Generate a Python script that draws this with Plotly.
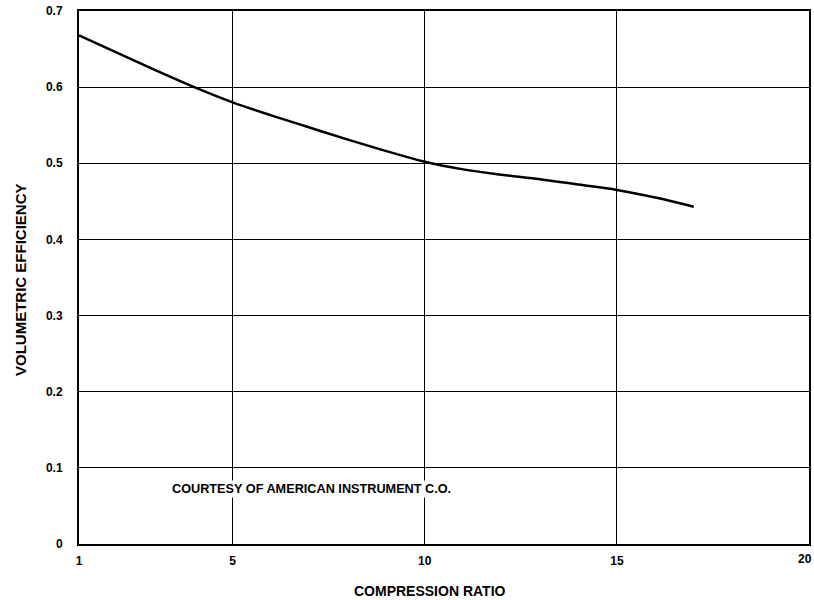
import plotly.graph_objects as go

# Volumetric efficiency versus compression ratio
compression_ratio = [1, 2, 3, 4, 5, 6, 7, 8, 9, 10, 11, 12, 13, 14, 15, 16, 17]
volumetric_eff = [0.668, 0.645, 0.622, 0.600, 0.580, 0.563, 0.547, 0.531, 0.516,
                  0.502, 0.492, 0.485, 0.479, 0.472, 0.465, 0.455, 0.443]

x_ticks = [1, 5, 10, 15, 20]
y_ticks = [0, 0.1, 0.2, 0.3, 0.4, 0.5, 0.6, 0.7]
y_tick_text = ["0", "0.1", "0.2", "0.3", "0.4", "0.5", "0.6", "0.7"]

FONT = "Liberation Sans, Arial, sans-serif"
PLOT_LEFT, PLOT_RIGHT = 79, 809
PLOT_W = PLOT_RIGHT - PLOT_LEFT
PLOT_TOP, PLOT_BOTTOM = 11, 544
PLOT_H = PLOT_BOTTOM - PLOT_TOP

fig = go.Figure()
fig.add_trace(go.Scatter(
    x=compression_ratio, y=volumetric_eff, mode="lines",
    line=dict(color="black", width=2.5, shape="spline", smoothing=1.0),
    hoverinfo="skip", showlegend=False,
))

tick_font = dict(family=FONT, size=12, weight="bold", color="black")

# the last x tick label sits at the page edge, so it is drawn as an
# annotation nudged inward instead of as a regular tick label
x_tick_text = [str(v) for v in x_ticks[:-1]] + [""]

fig.update_layout(
    width=814, height=600,
    margin=dict(l=PLOT_LEFT, r=814 - PLOT_RIGHT, t=PLOT_TOP, b=600 - PLOT_BOTTOM),
    paper_bgcolor="white", plot_bgcolor="white",
    font=dict(family=FONT, color="black", size=11),
    xaxis=dict(
        range=[1, 20], tickvals=x_ticks, ticktext=x_tick_text,
        showgrid=True, gridcolor="black", gridwidth=1.3,
        showline=True, linecolor="black", linewidth=2, mirror=True,
        zeroline=False, ticks="", ticklabelstandoff=5, automargin=False,
        ticklabeloverflow="allow", tickfont=tick_font,
    ),
    yaxis=dict(
        range=[0, 0.7], tickvals=y_ticks, ticktext=y_tick_text,
        showgrid=True, gridcolor="black", gridwidth=1.3,
        showline=True, linecolor="black", linewidth=2, mirror=True,
        zeroline=False, ticks="", ticklabelstandoff=12, automargin=False,
        ticklabeloverflow="allow", tickfont=tick_font,
    ),
    annotations=[
        dict(text=str(x_ticks[-1]), x=x_ticks[-1], y=0, xref="x", yref="y",
             xanchor="center", yanchor="top", yshift=-6, xshift=-4,
             showarrow=False, font=tick_font),
        dict(text="COURTESY OF AMERICAN INSTRUMENT C.O.", x=3.37, y=0.072,
             xref="x", yref="y", xanchor="left", yanchor="middle", showarrow=False,
             bgcolor="white",
             font=dict(family=FONT, size=12.7, weight="bold", color="black")),
        dict(text="COMPRESSION RATIO", x=(430 - PLOT_LEFT) / PLOT_W,
             y=-(591 - PLOT_BOTTOM) / PLOT_H, xref="paper", yref="paper",
             xanchor="center", yanchor="middle", showarrow=False,
             font=dict(family=FONT, size=14, weight="bold", color="black")),
        dict(text="VOLUMETRIC EFFICIENCY", x=(20 - PLOT_LEFT) / PLOT_W,
             y=(PLOT_BOTTOM - 280) / PLOT_H, xref="paper", yref="paper",
             xanchor="center", yanchor="middle", showarrow=False, textangle=-90,
             font=dict(family=FONT, size=15, weight="bold", color="black")),
    ],
)

fig.write_html("out.html")
